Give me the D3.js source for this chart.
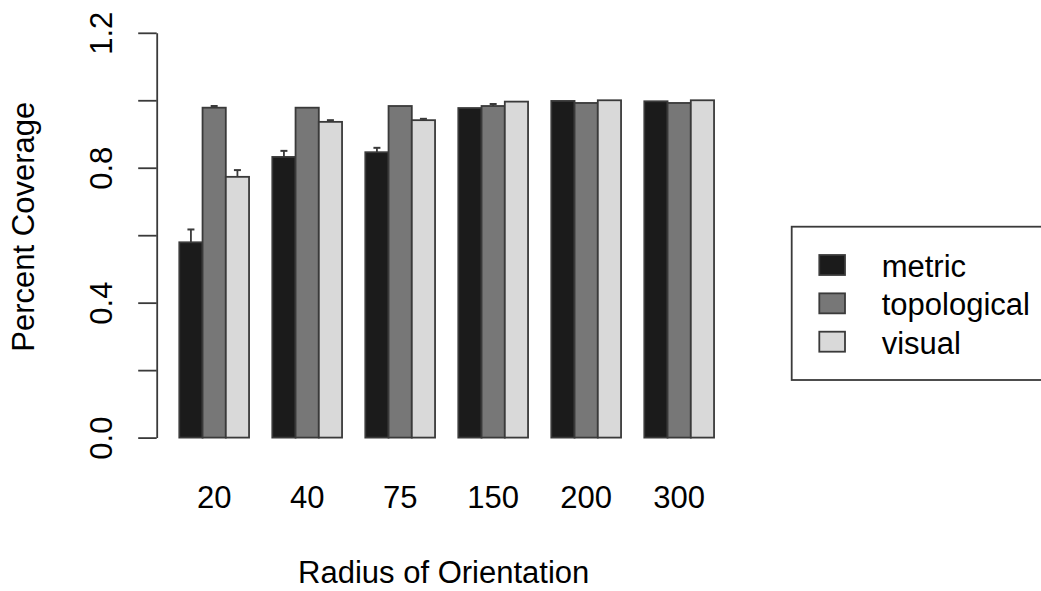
<!DOCTYPE html>
<html>
<head>
<meta charset="utf-8">
<script src="https://cdn.jsdelivr.net/npm/d3@7"></script>
<style>
  html, body { margin: 0; padding: 0; background: #fff; }
  svg { display: block; font-family: "Liberation Sans", Arial, sans-serif; }
</style>
</head>
<body>
<svg id="chart" width="1041" height="591"></svg>
<script>
// ---- data ----
const categories = ["20", "40", "75", "150", "200", "300"];
const seriesNames = ["metric", "topological", "visual"];
const metric      = [0.579, 0.832, 0.846, 0.977, 0.998, 0.997];
const topological = [0.978, 0.978, 0.983, 0.983, 0.992, 0.992];
const visual      = [0.773, 0.936, 0.941, 0.996, 1.000, 1.000];
const metricErr      = [0.038, 0.018, 0.013, 0, 0, 0];
const topologicalErr = [0.005, 0, 0, 0.006, 0, 0];
const visualErr      = [0.020, 0.005, 0.004, 0, 0, 0];
const yTickValues = [0, 0.2, 0.4, 0.6, 0.8, 1.0, 1.2];
const yTickLabels = ["0.0", "", "0.4", "", "0.8", "", "1.2"];
const xTitle = "Radius of Orientation";
const yTitle = "Percent Coverage";

const seriesValues = [metric, topological, visual];
const seriesErrs = [metricErr, topologicalErr, visualErr];
const colors = ["#1b1b1b", "#777777", "#d9d9d9"];
const strokeCol = "#3a3a3a";

const svg = d3.select("#chart");
const FONT = 31;

// ---- scales ----
const y = d3.scaleLinear().domain([0, 1.2]).range([437.6, 32.8]);
const x0 = d3.scaleBand().domain(categories)
  .range([179.3, 179.3 + 6 * 93.0])
  .paddingInner(0.25).paddingOuter(0.125).align(0);
const x1 = d3.scaleBand().domain(seriesNames).range([0, x0.bandwidth()]).padding(0);

// ---- bars ----
const rows = [];
categories.forEach((c, i) => {
  seriesNames.forEach((s, j) => {
    rows.push({ cat: c, s, j, v: seriesValues[j][i], e: seriesErrs[j][i] });
  });
});

const g = svg.append("g");
g.selectAll("rect.bar").data(rows).enter().append("rect")
  .attr("class", "bar")
  .attr("x", d => x0(d.cat) + x1(d.s))
  .attr("width", x1.bandwidth())
  .attr("y", d => y(d.v))
  .attr("height", d => y(0) - y(d.v))
  .attr("fill", d => colors[d.j])
  .attr("stroke", strokeCol)
  .attr("stroke-width", 1.8);

// ---- error bars (upper only) ----
const errRows = rows.filter(d => d.e > 0);
const eg = g.selectAll("g.err").data(errRows).enter().append("g").attr("class", "err");
eg.append("line")
  .attr("x1", d => x0(d.cat) + x1(d.s) + x1.bandwidth() / 2)
  .attr("x2", d => x0(d.cat) + x1(d.s) + x1.bandwidth() / 2)
  .attr("y1", d => y(d.v))
  .attr("y2", d => y(d.v + d.e))
  .attr("stroke", strokeCol).attr("stroke-width", 1.8);
eg.append("line")
  .attr("x1", d => x0(d.cat) + x1(d.s) + x1.bandwidth() / 2 - 3.5)
  .attr("x2", d => x0(d.cat) + x1(d.s) + x1.bandwidth() / 2 + 3.5)
  .attr("y1", d => y(d.v + d.e))
  .attr("y2", d => y(d.v + d.e))
  .attr("stroke", strokeCol).attr("stroke-width", 2);

// ---- y axis ----
const yAxis = d3.axisLeft(y)
  .tickValues(yTickValues)
  .tickFormat((d, i) => yTickLabels[i])
  .tickSize(18.5)
  .tickSizeOuter(0);
const ya = svg.append("g").attr("transform", "translate(156.7,0)").call(yAxis);
ya.select(".domain").attr("stroke", strokeCol).attr("stroke-width", 1.8);
ya.selectAll(".tick line").attr("stroke", strokeCol).attr("stroke-width", 1.8);
ya.selectAll(".tick text")
  .attr("fill", "#000")
  .attr("font-size", FONT)
  .attr("font-family", "Liberation Sans, Arial, sans-serif")
  .attr("x", null).attr("dy", null)
  .attr("text-anchor", "middle")
  .attr("transform", "translate(-45,0) rotate(-90)");

// ---- x labels ----
const xAxis = d3.axisBottom(x0).tickSize(0).tickSizeOuter(0);
const xa = svg.append("g").attr("transform", "translate(0,486)").call(xAxis);
xa.select(".domain").remove();
xa.selectAll(".tick text")
  .attr("fill", "#000")
  .attr("font-size", FONT)
  .attr("font-family", "Liberation Sans, Arial, sans-serif")
  .attr("y", 22.3).attr("dy", null);

// ---- titles ----
svg.append("text")
  .attr("x", 443.7).attr("y", 583.3)
  .attr("text-anchor", "middle")
  .attr("font-size", FONT)
  .text(xTitle);
svg.append("text")
  .attr("transform", "translate(33.6,226.7) rotate(-90)")
  .attr("text-anchor", "middle")
  .attr("font-size", FONT)
  .text(yTitle);

// ---- legend ----
const lg = svg.append("g");
lg.append("rect")
  .attr("x", 791.7).attr("y", 226.7)
  .attr("width", 300).attr("height", 153.3)
  .attr("fill", "#fff").attr("stroke", strokeCol).attr("stroke-width", 1.8);
const li = lg.selectAll("g.li").data(seriesNames).enter().append("g")
  .attr("transform", (d, i) => `translate(0,${255 + i * 38.35})`);
li.append("rect")
  .attr("x", 819.3).attr("y", 0)
  .attr("width", 25.7).attr("height", 20)
  .attr("fill", (d, i) => colors[i])
  .attr("stroke", strokeCol).attr("stroke-width", 1.8);
li.append("text")
  .attr("x", 881.7).attr("y", 22)
  .attr("font-size", FONT)
  .attr("fill", "#000")
  .text(d => d);
</script>
</body>
</html>
